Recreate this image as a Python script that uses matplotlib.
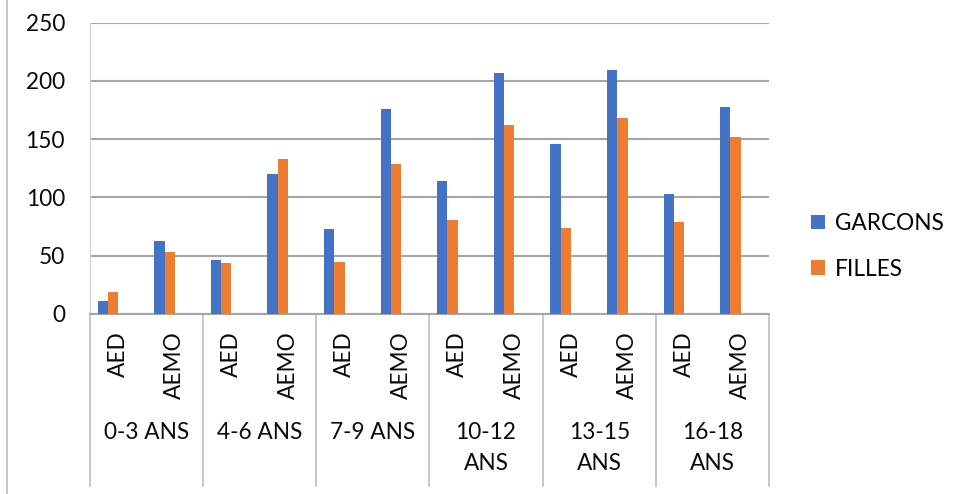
import matplotlib
matplotlib.use("Agg")
import matplotlib.pyplot as plt
import matplotlib.transforms as mtransforms
from matplotlib.lines import Line2D
import numpy as np

# %% data
age_groups = ["0-3 ANS", "4-6 ANS", "7-9 ANS", "10-12\nANS", "13-15\nANS", "16-18\nANS"]
services = ["AED", "AEMO"]
garcons = [11, 63, 46, 120, 73, 176, 114, 207, 146, 209, 103, 178]
filles = [19, 53, 44, 133, 45, 129, 81, 162, 74, 168, 79, 152]
y_ticks = [0, 50, 100, 150, 200, 250]

# %% plot
plt.rcParams['font.family'] = ['Lato', 'DejaVu Sans']
plt.rcParams['font.size'] = 16.3

blue = "#4472C4"
orange = "#ED7D31"
grid_col = "#A6A6A6"
sep_col = "#BFBFBF"
txt_col = "#0A0A0A"

fig = plt.figure(figsize=(9.62, 4.94), dpi=100)
ax = fig.add_axes([90/962, (494-314)/494, (769-90)/962, (314-22.7)/494])

x = np.arange(len(garcons))
w = 0.182
ax.bar(x - 1.5*w, garcons, width=w, color=blue, label="GARCONS", zorder=3)
ax.bar(x - 0.5*w, filles, width=w, color=orange, label="FILLES", zorder=3)

ax.set_xlim(-0.5, len(garcons) - 0.5)
ax.set_ylim(0, 250)
ax.set_yticks(y_ticks)
ax.tick_params(axis='y', length=0, pad=18, labelcolor=txt_col)
ax.set_xticks([])
ax.grid(axis='y', color=grid_col, linewidth=1.5, zorder=0)
for s in ['top', 'right']:
    ax.spines[s].set_visible(False)
ax.spines['left'].set_color("#D0D0D0")
ax.spines['bottom'].set_color(grid_col)
ax.spines['bottom'].set_linewidth(1.5)

trans = mtransforms.blended_transform_factory(ax.transData, ax.transAxes)

# inner level labels
for i in range(len(garcons)):
    ax.text(i, -0.060, services[i % 2], rotation=90, ha='center', va='top',
            transform=trans, color=txt_col)

# outer level labels and separators
for g, lab in enumerate(age_groups):
    ax.text(2*g + 0.5, -0.372, lab, ha='center', va='top', transform=trans,
            color=txt_col, linespacing=1.55)
for b in range(len(age_groups) + 1):
    ax.plot([2*b - 0.5, 2*b - 0.5], [0, -0.59], color=sep_col, linewidth=1.2,
            transform=trans, clip_on=False)

# chart border on the left
fig.add_artist(Line2D([7/962, 7/962], [0, 1], color=sep_col, linewidth=1.2))

fig.legend(loc='center left', bbox_to_anchor=(811/962, 0.5014), frameon=False,
           handlelength=0.62, handleheight=0.62, handletextpad=0.42,
           labelspacing=1.1, borderpad=0, borderaxespad=0)

fig.savefig("out.png", dpi=100)
